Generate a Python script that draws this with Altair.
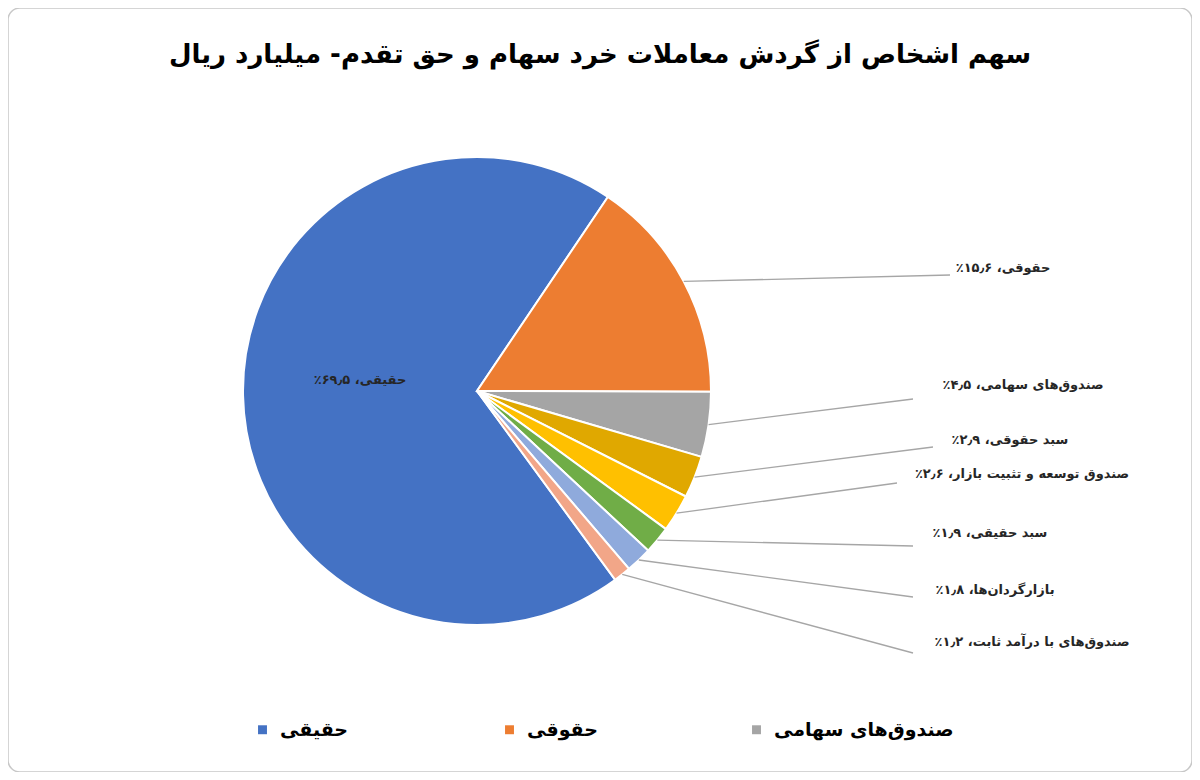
import math
import altair as alt
import pandas as pd

# ---- data ----
categories = [
    "حقیقی",
    "حقوقی",
    "صندوق‌های سهامی",
    "سبد حقوقی",
    "صندوق توسعه و تثبیت بازار",
    "سبد حقیقی",
    "بازارگردان‌ها",
    "صندوق‌های با درآمد ثابت",
]
values = [69.5, 15.6, 4.5, 2.9, 2.6, 1.9, 1.8, 1.2]
labels = [
    "حقیقی، ۶۹٫۵٪",
    "حقوقی، ۱۵٫۶٪",
    "صندوق‌های سهامی، ۴٫۵٪",
    "سبد حقوقی، ۲٫۹٪",
    "صندوق توسعه و تثبیت بازار، ۲٫۶٪",
    "سبد حقیقی، ۱٫۹٪",
    "بازارگردان‌ها، ۱٫۸٪",
    "صندوق‌های با درآمد ثابت، ۱٫۲٪",
]
legend_shown = ["حقیقی", "حقوقی", "صندوق‌های سهامی"]
title_text = ["سهم اشخاص از گردش معاملات خرد سهام و حق تقدم- میلیارد ریال"]

# ---- style / layout ----
colors = ["#4472C4", "#ED7D31", "#A5A5A5", "#E0A800", "#FFC000", "#70AD47", "#8FAADC", "#F2A688"]
CX, CY, R = 469, 383, 234
START = math.radians(143.8)
LABEL_X = [352, 995, 1015, 1002, 1014, 982, 987, 1024]
LABEL_Y = [372, 260, 377, 432, 466, 525, 582, 634]
LEAD_X2 = [0, 942, 905, 925, 889, 905, 905, 905]
LEAD_Y2 = [0, 267, 391, 439, 475, 538, 589, 645]
FONT = "DejaVu Sans"
RLM = "\u200f"  # right-to-left mark so the percent sign sits on the left

df = pd.DataFrame({
    "cat": categories,
    "value": values,
    "label": [RLM + s + RLM for s in labels],
    "order": list(range(len(categories))),
    "lab_x": LABEL_X,
    "lab_y": LABEL_Y,
    "x2": LEAD_X2,
    "y2": LEAD_Y2,
})

base = alt.Chart(df)

arcs = base.mark_arc(outerRadius=R, stroke="white", strokeWidth=2).encode(
    x=alt.value(CX),
    y=alt.value(CY),
    theta=alt.Theta("value:Q", stack=True,
                    scale=alt.Scale(range=[START, START + 2 * math.pi])),
    order=alt.Order("order:Q"),
    color=alt.Color(
        "cat:N",
        scale=alt.Scale(domain=categories, range=colors),
        legend=alt.Legend(
            values=legend_shown,
            title=None,
            orient="none",
            direction="horizontal",
            legendX=245,
            legendY=712,
            symbolType="square",
            symbolSize=80,
            symbolStrokeWidth=0,
            labelFont=FONT,
            labelFontSize=19,
            labelFontWeight="bold",
            labelColor="#000000",
            labelOffset=8,
            columnPadding=40,
            gridAlign="all",
            padding=0,
            labelLimit=400,
        ),
    ),
)

with_angles = base.transform_joinaggregate(
    total="sum(value)"
).transform_window(
    cum="sum(value)", sort=[alt.SortField("order")], frame=[None, 0]
).transform_calculate(
    mid=f"{START} + 2*PI*(datum.cum - datum.value/2)/datum.total"
).transform_calculate(
    lx=f"{CX} + {R}*sin(datum.mid)",
    ly=f"{CY} - {R}*cos(datum.mid)",
)

leaders = with_angles.transform_filter("datum.order > 0").mark_rule(
    color="#A6A6A6", strokeWidth=1.3
).encode(
    x=alt.X("lx:Q", scale=None, axis=None),
    y=alt.Y("ly:Q", scale=None, axis=None),
    x2="x2:Q",
    y2="y2:Q",
)

texts = base.mark_text(
    font=FONT, fontSize=13, fontWeight="bold", color="#262626",
    align="center", baseline="middle",
).encode(
    x=alt.X("lab_x:Q", scale=None, axis=None),
    y=alt.Y("lab_y:Q", scale=None, axis=None),
    text="label:N",
)

title = alt.Chart(pd.DataFrame({"t": title_text})).mark_text(
    font=FONT, fontSize=26, fontWeight="bold", color="#000000",
    align="center", baseline="middle",
).encode(
    x=alt.value(592),
    y=alt.value(47),
    text="t:N",
)

chart = alt.layer(arcs, leaders, texts, title).properties(
    width=1184,
    height=764,
    autosize=alt.AutoSizeParams(type="none"),
    padding=0,
    background="white",
).configure_view(
    stroke="#C8C8C8", strokeWidth=1.5, cornerRadius=12
)

chart.save("out.html", embed_options={"renderer": "svg", "actions": False})
